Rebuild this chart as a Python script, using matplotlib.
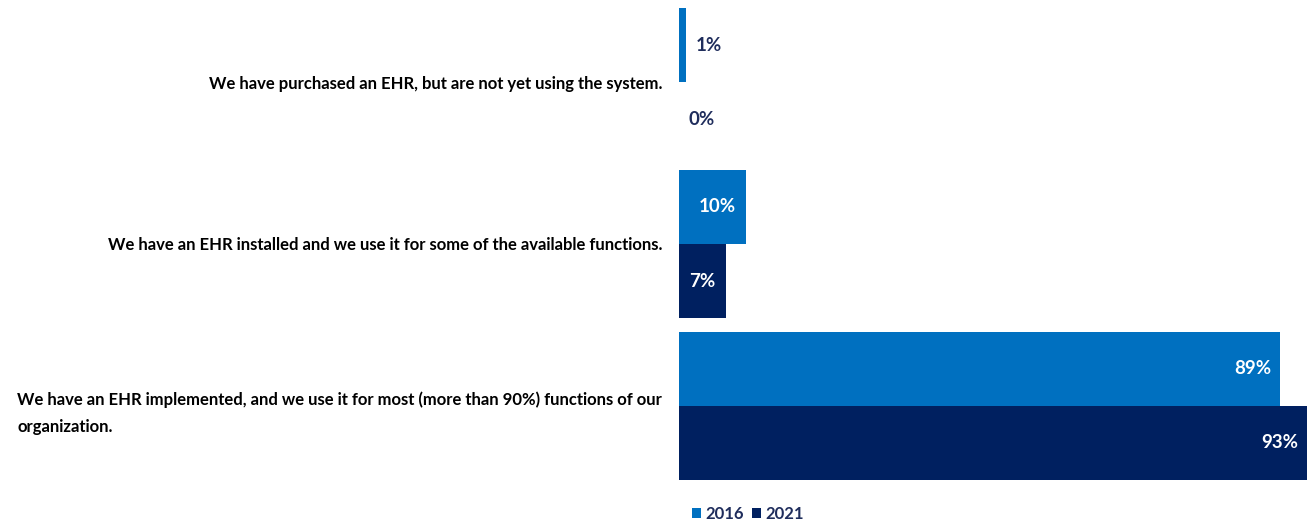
import numpy as np
import matplotlib.pyplot as plt

categories = [
    "We have purchased an EHR, but are not yet using the system.",
    "We have an EHR installed and we use it for some of the available functions.",
    "We have an EHR implemented, and we use it for most (more than 90%) functions of our\norganization.",
]
years = ["2016", "2021"]
pct_2016 = [1, 10, 89]
pct_2021 = [0, 7, 93]

colors = ["#0070C0", "#002060"]
label_dark = "#1F2D5C"

plt.rcParams['font.family'] = ['Lato', 'DejaVu Sans']
plt.rcParams['font.weight'] = 'bold'

fig = plt.figure(figsize=(13.14, 5.21), dpi=100)
ax = fig.add_axes([679 / 1314, 1 - 480 / 521, 631 / 1314, 472 / 521])

y = np.arange(len(categories))
h = 0.457
series = [pct_2016, pct_2021]
offsets = [-h / 2, h / 2]

for vals, off, col, yr in zip(series, offsets, colors, years):
    bars = ax.barh(y + off, vals, height=h, color=col, label=yr)
    for b, v in zip(bars, vals):
        yc = b.get_y() + b.get_height() / 2
        txt = f"{v}%"
        if v >= 50:
            ax.annotate(txt, (v, yc), xytext=(-6, 0), textcoords='offset points',
                        ha='right', va='center', color='white', fontsize=13.5, fontweight='bold')
        elif v >= 5:
            ax.annotate(txt, (v / 2, yc), xytext=(3 if v >= 10 else 0, 0), textcoords='offset points',
                        ha='center', va='center', color='white', fontsize=13.5, fontweight='bold')
        else:
            ax.annotate(txt, (v, yc), xytext=(7, 0), textcoords='offset points',
                        ha='left', va='center', color=label_dark, fontsize=13.5, fontweight='bold')

ax.set_xlim(0, 93.5)
ax.set_ylim(2 + h, -h)
ax.set_yticks(y)
ax.set_yticklabels(categories, fontsize=12, fontweight='bold', color='black')
for t in ax.get_yticklabels():
    t.set_multialignment('left')
    t.set_linespacing(1.9)
ax.tick_params(axis='y', length=0, pad=12)
ax.set_xticks([])
for s in ax.spines.values():
    s.set_visible(False)

leg = fig.legend(loc='lower left', bbox_to_anchor=(677 / 1314, -0.03), ncol=2, frameon=False,
                 fontsize=12, handlelength=0.55, handleheight=0.55, handletextpad=0.25,
                 columnspacing=0.5)
for t in leg.get_texts():
    t.set_color(label_dark)

fig.savefig("out.png", dpi=100)
